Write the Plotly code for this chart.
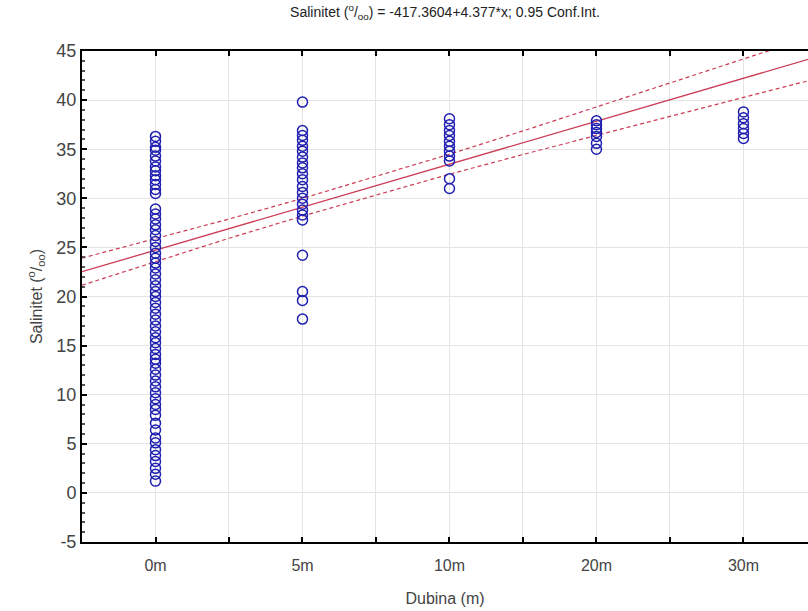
import plotly.graph_objects as go

# category codes used by the regression (x = 101..105)
cat_codes = [101, 102, 103, 104, 105]
cat_labels = ["0m", "5m", "10m", "20m", "30m"]

sal_0m = [36.3, 35.8, 35.2, 34.9, 34.3, 33.8, 33.2, 32.8, 32.3, 31.9, 31.4, 30.9, 30.5,
          28.9, 28.4, 27.9, 27.3, 26.8, 26.2, 25.6, 25.0, 24.4, 23.9, 23.4, 22.9, 22.3,
          21.7, 21.1, 20.5, 20.0, 19.4, 18.8, 18.2, 17.6, 17.0, 16.4, 15.8, 15.3, 14.7,
          14.1, 13.6, 13.2, 12.6, 12.0, 11.4, 10.8, 10.2, 9.6, 9.0, 8.5, 7.9, 7.1, 6.4,
          5.6, 5.1, 4.4, 3.8, 3.2, 2.5, 1.9, 1.2]
sal_5m = [39.8, 36.9, 36.4, 35.9, 35.3, 34.8, 34.2, 33.6, 33.1, 32.5, 31.9, 31.2, 30.6,
          30.0, 29.4, 28.8, 28.3, 27.8, 24.2, 20.5, 19.6, 17.7]
sal_10m = [38.1, 37.5, 36.9, 36.4, 35.8, 35.3, 34.8, 34.3, 33.8, 32.0, 31.0]
sal_20m = [37.9, 37.5, 37.1, 36.7, 36.3, 35.6, 35.0]
sal_30m = [38.8, 38.2, 37.6, 37.1, 36.6, 36.1]

# regression: Salinitet = -417.3604 + 4.377*x
intercept = -417.3604
slope = 4.377

# confidence band
band_x = [100.5, 101, 101.5, 102, 102.5, 103, 103.5, 104, 104.5, 105, 105.5]
band_upper = [23.91, 25.88, 27.89, 29.99, 32.21, 34.49, 36.86, 39.28, 41.72, 44.18, 46.63]
band_lower = [21.15, 23.56, 25.93, 28.19, 30.35, 32.45, 34.46, 36.42, 38.36, 40.28, 42.19]

y_ticks = [-5, 0, 5, 10, 15, 20, 25, 30, 35, 40, 45]
y_tick_labels = ["-5", "0", "5", "10", "15", "20", "25", "30", "35", "40", "45"]

groups = [sal_0m, sal_5m, sal_10m, sal_20m, sal_30m]
xs, ys = [], []
for code, vals in zip(cat_codes, groups):
    xs += [code] * len(vals)
    ys += vals

fig = go.Figure()

line_x = [100.5, 105.5]
line_y = [intercept + slope * v for v in line_x]
red = "#cc3d55"

fig.add_trace(go.Scatter(x=band_x, y=band_upper, mode="lines",
                         line=dict(color=red, width=1.2, dash="4px,3px"),
                         hoverinfo="skip", showlegend=False))
fig.add_trace(go.Scatter(x=band_x, y=band_lower, mode="lines",
                         line=dict(color=red, width=1.2, dash="4px,3px"),
                         hoverinfo="skip", showlegend=False))
fig.add_trace(go.Scatter(x=line_x, y=line_y, mode="lines",
                         line=dict(color=red, width=1.3),
                         hoverinfo="skip", showlegend=False))
fig.add_trace(go.Scatter(x=xs, y=ys, mode="markers",
                         marker=dict(symbol="circle-open", size=10,
                                     color="#1f1fb0", line=dict(width=1.5, color="#1f1fb0")),
                         showlegend=False))

font_fam = "Liberation Sans, Arial"

fig.update_layout(
    width=808, height=611,
    margin=dict(l=82, r=0, t=51, b=69),
    paper_bgcolor="white", plot_bgcolor="white",
    title=dict(text="Salinitet (<sup>o</sup>/<sub>oo</sub>) = -417.3604+4.377*x; 0.95 Conf.Int.",
               x=0.5, xref="paper", xanchor="center", y=0.988, yanchor="top",
               font=dict(family=font_fam, size=14, color="#222222")),
    showlegend=False,
)

fig.update_xaxes(
    range=[100.5, 105.439],
    tickmode="array", tickvals=cat_codes, ticktext=cat_labels,
    ticks="inside", ticklen=5, tickwidth=2, tickcolor="black",
    showline=True, linecolor="black", linewidth=2, mirror="ticks",
    showgrid=True, gridcolor="#e4e4e4", gridwidth=1,
    zeroline=False,
    ticklabelstandoff=8,
    minor=dict(tickmode="array", tickvals=[100.5, 101.5, 102.5, 103.5, 104.5],
               ticks="inside", ticklen=5, tickwidth=2, tickcolor="black",
               showgrid=True, gridcolor="#e4e4e4", gridwidth=1),
    tickfont=dict(family=font_fam, size=16, color="#444444"),
    title=dict(text="Dubina (m)", font=dict(family=font_fam, size=16, color="#444444"), standoff=20),
)

fig.update_yaxes(
    range=[-5, 45],
    tickmode="array", tickvals=y_ticks, ticktext=y_tick_labels,
    ticks="inside", ticklen=5, tickwidth=2, tickcolor="black",
    showline=True, linecolor="black", linewidth=2, mirror=False,
    showgrid=True, gridcolor="#e4e4e4", gridwidth=1,
    zeroline=False,
    minor=dict(dtick=1, tick0=0, ticks="inside", ticklen=3, tickwidth=1.5, tickcolor="#555555",
               showgrid=False),
    tickfont=dict(family=font_fam, size=18, color="#444444"),
    title=dict(text="Salinitet (<sup>o</sup>/<sub>oo</sub>)",
               font=dict(family=font_fam, size=16, color="#444444"), standoff=10),
)

fig.write_html("out.html")
